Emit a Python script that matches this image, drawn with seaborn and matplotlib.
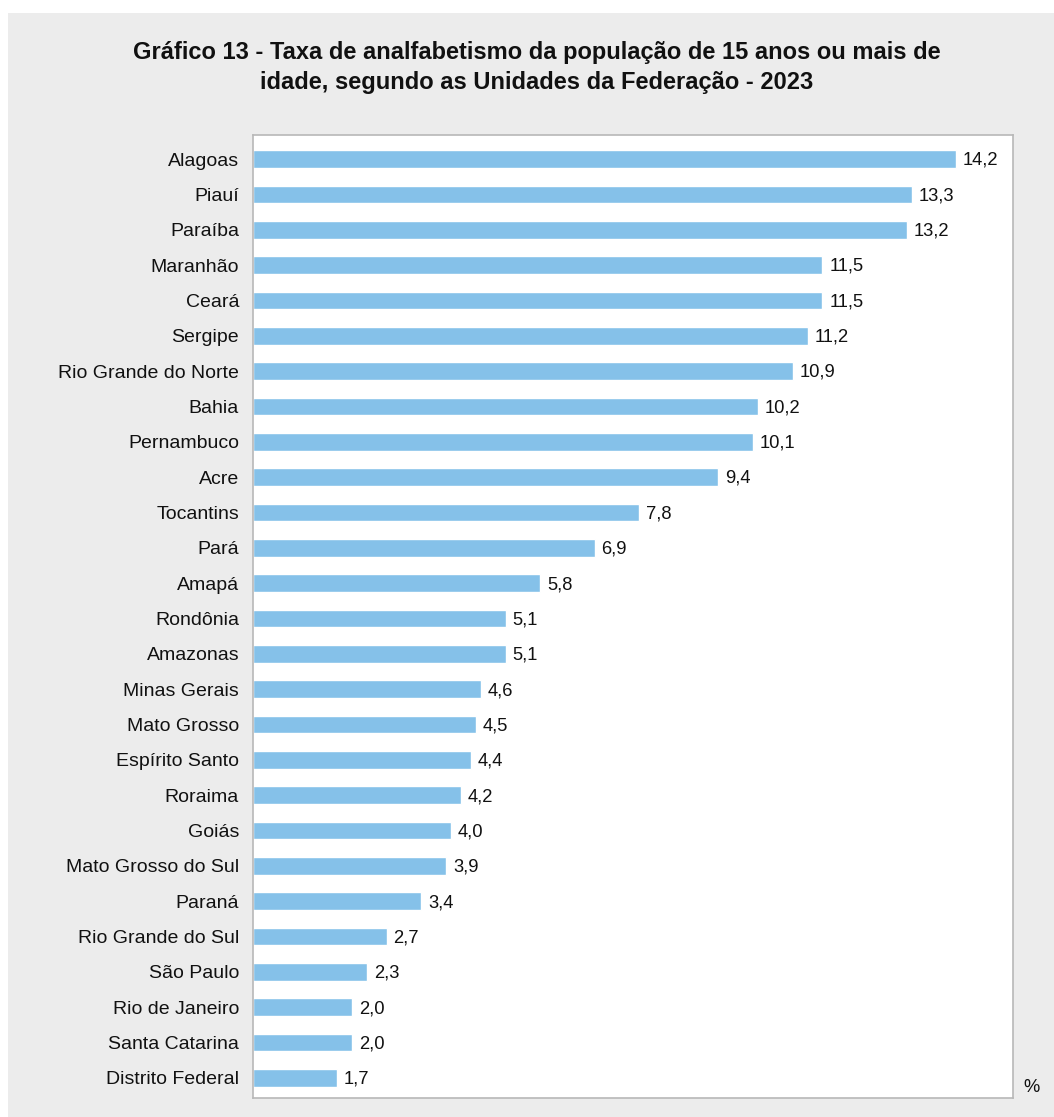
import matplotlib
matplotlib.use("Agg")
import matplotlib.pyplot as plt
import seaborn as sns
import pandas as pd
from matplotlib.patches import Rectangle

ufs = ["Alagoas", "Piauí", "Paraíba", "Maranhão", "Ceará", "Sergipe",
       "Rio Grande do Norte", "Bahia", "Pernambuco", "Acre", "Tocantins",
       "Pará", "Amapá", "Rondônia", "Amazonas", "Minas Gerais", "Mato Grosso",
       "Espírito Santo", "Roraima", "Goiás", "Mato Grosso do Sul", "Paraná",
       "Rio Grande do Sul", "São Paulo", "Rio de Janeiro", "Santa Catarina",
       "Distrito Federal"]
taxa = [14.2, 13.3, 13.2, 11.5, 11.5, 11.2, 10.9, 10.2, 10.1, 9.4, 7.8,
        6.9, 5.8, 5.1, 5.1, 4.6, 4.5, 4.4, 4.2, 4.0, 3.9, 3.4, 2.7, 2.3,
        2.0, 2.0, 1.7]

df = pd.DataFrame({"uf": ufs, "taxa": taxa})

sns.set_theme(style="white")
plt.rcParams['font.family'] = ['Liberation Sans', 'DejaVu Sans']

W, H = 1054, 1117
fig = plt.figure(figsize=(W / 100, H / 100), dpi=100)
fig.patch.set_facecolor("white")
fig.patches.append(Rectangle((8 / W, 0), 1, 1 - 13 / H, transform=fig.transFigure,
                             facecolor="#ececec", edgecolor="none", zorder=-10))

left, right, top, bottom = 253, 1013, 135, 1098
ax = fig.add_axes([left / W, 1 - bottom / H, (right - left) / W, (bottom - top) / H])
ax.set_facecolor("white")

sns.barplot(data=df, x="taxa", y="uf", color="#85c1e9", width=0.5,
            saturation=1, ax=ax, orient="h")

for i, v in enumerate(taxa):
    ax.text(v + 0.14, i + 0.04, f"{v:.1f}".replace(".", ","), va="center", ha="left",
            fontsize=13.2, color="#111111")

ax.set_xlim(0, 15.35)
ax.set_ylim(26.57, -0.68)
ax.set_xticks([])
ax.set_xlabel("")
ax.set_ylabel("")
ax.tick_params(axis="y", length=0, pad=10, labelsize=14, labelcolor="#111111")
for s in ax.spines.values():
    s.set_visible(True)
    s.set_color("#b8b8b8")
    s.set_linewidth(1.2)

fig.text(1031 / W, 1 - 1087 / H, "%", ha="center", va="center", fontsize=13.2, color="#111111")

fig.text(537 / W, 1 - 53 / H, "Gráfico 13 - Taxa de analfabetismo da população de 15 anos ou mais de",
         ha="center", va="center", fontsize=17, fontweight="bold", color="#111111")
fig.text(537 / W, 1 - 83 / H, "idade, segundo as Unidades da Federação - 2023",
         ha="center", va="center", fontsize=17, fontweight="bold", color="#111111")

fig.savefig("out.png", dpi=100)
